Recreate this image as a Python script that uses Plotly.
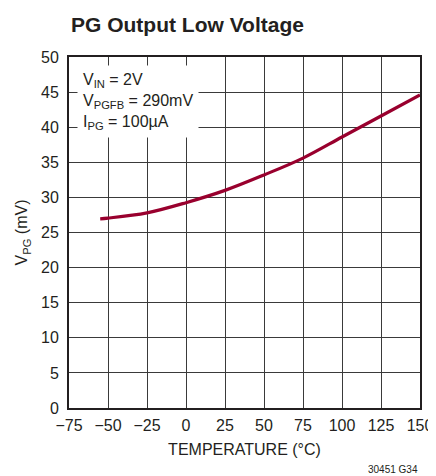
import plotly.graph_objects as go

temperature = [-55, -50, -25, 0, 25, 50, 75, 100, 125, 150]
v_pg = [26.95, 27.05, 27.8, 29.25, 31.0, 33.2, 35.6, 38.6, 41.6, 44.6]
x_ticks = [-75, -50, -25, 0, 25, 50, 75, 100, 125, 150]
y_ticks = [0, 5, 10, 15, 20, 25, 30, 35, 40, 45, 50]

FONT = "Liberation Sans, Arial, sans-serif"

# the page body has an 8px margin, so the figure is drawn 8px right/down
W, H = 428, 468
L, R, T, B = 60.6, 15.5, 48.7, 67.7
plot_h = H - T - B

fig = go.Figure()
fig.add_trace(go.Scatter(x=temperature, y=v_pg, mode="lines",
                         line=dict(color="#99002e", width=3.2, shape="spline"),
                         hoverinfo="skip"))

fig.update_layout(
    width=W, height=H,
    margin=dict(l=L, r=R, t=T, b=B, autoexpand=False),
    paper_bgcolor="white", plot_bgcolor="white",
    showlegend=False,
    font=dict(family=FONT, size=16, color="#231f20"),
    title=dict(text="<b>PG Output Low Voltage</b>", x=63 / W, xanchor="left",
               y=1 - 17 / H, yanchor="middle",
               font=dict(family=FONT, size=21, color="#231f20")),
    xaxis=dict(range=[-75, 150], tickvals=x_ticks, ticks="", showgrid=True,
               gridcolor="#3a3a3a", gridwidth=1, zeroline=False, automargin=False,
               showline=True, linecolor="#231f20", linewidth=2, mirror=True,
               tickfont=dict(size=16), ticklabelstandoff=2,
               title=dict(text="TEMPERATURE (°C)", font=dict(size=16), standoff=11)),
    yaxis=dict(range=[0, 50], tickvals=y_ticks, ticks="", showgrid=True,
               gridcolor="#3a3a3a", gridwidth=1, zeroline=False, automargin=False,
               showline=True, linecolor="#231f20", linewidth=2, mirror=True,
               tickfont=dict(size=16), ticklabelstandoff=5,
               title=dict(text="V<sub>PG</sub> (mV)", font=dict(size=16), standoff=9)),
)

fig.add_annotation(
    xref="paper", yref="paper", x=0.022, y=0.976, xanchor="left", yanchor="top",
    text="V<sub>IN</sub> = 2V<br>V<sub>PGFB</sub> = 290mV<br>I<sub>PG</sub> = 100µA",
    align="left", showarrow=False, bgcolor="white", borderpad=5,
    font=dict(family=FONT, size=16, color="#231f20"))

fig.add_annotation(
    xref="paper", yref="paper", x=1.0, y=-62 / plot_h, xanchor="right", yanchor="middle",
    text="30451 G34", showarrow=False,
    font=dict(family=FONT, size=10, color="#231f20"))

fig.write_html("out.html")
